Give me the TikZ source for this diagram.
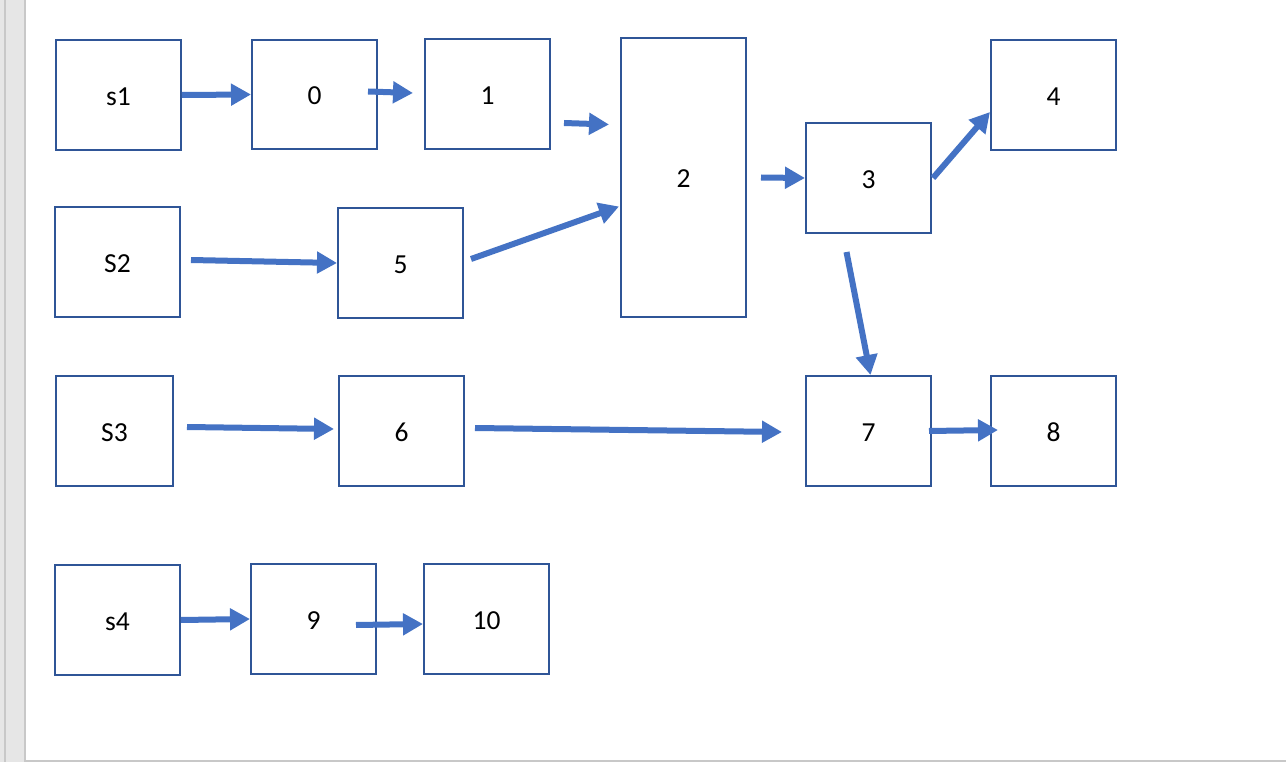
\documentclass[tikz,border=0pt]{standalone}
\usepackage{fontspec}
\setmainfont{Carlito}
\usetikzlibrary{arrows.meta,calc}
\definecolor{boxc}{HTML}{2F5597}
\definecolor{arrc}{HTML}{4472C4}
\definecolor{stripc}{HTML}{E6E6E6}
\definecolor{edgec}{HTML}{C8C8C8}
\tikzset{
  blk/.style={draw=boxc,line width=2pt,fill=white,inner sep=0pt,
    font=\fontsize{27.5}{32}\selectfont,text height=21pt,text depth=0pt},
  arr/.style={draw=arrc,line width=6pt,-{Triangle[length=20pt,width=21pt]}}
}
\begin{document}
\begin{tikzpicture}[x=1pt,y=-1pt]
\useasboundingbox (0,0) rectangle (1286,762);
\fill[white] (0,0) rectangle (1286,762);
\fill[stripc] (0,0) rectangle (25,762);
\draw[edgec,line width=1.5pt] (5,0) -- (5,762);
\draw[edgec,line width=1.5pt] (25,0) -- (25,762);
\draw[edgec,line width=1.5pt] (25,761) -- (1286,761);
% boxes
\node[blk,minimum width=125pt,minimum height=110pt] (s1) at (118.5,95) {s1};
\node[blk,minimum width=125pt,minimum height=109pt] (n0) at (314.5,94.5) {0};
\node[blk,minimum width=125pt,minimum height=110pt] (n1) at (487.5,94) {1};
\node[blk,minimum width=125pt,minimum height=279pt] (n2) at (683.5,177.5) {2};
\node[blk,minimum width=125pt,minimum height=110pt] (n4) at (1053.5,95) {4};
\node[blk,minimum width=125pt,minimum height=110pt] (n3) at (868.5,178) {3};
\node[blk,minimum width=125pt,minimum height=110pt] (s2) at (117.5,262) {S2};
\node[blk,minimum width=125pt,minimum height=110pt] (n5) at (400.5,263) {5};
\node[blk,minimum width=117pt,minimum height=110pt] (s3) at (114.5,431) {S3};
\node[blk,minimum width=125pt,minimum height=110pt] (n6) at (401.5,431) {6};
\node[blk,minimum width=125pt,minimum height=110pt] (n7) at (868.5,431) {7};
\node[blk,minimum width=125pt,minimum height=110pt] (n8) at (1053.5,431) {8};
\node[blk,minimum width=125pt,minimum height=110pt] (s4) at (117.5,620) {s4};
\node[blk,minimum width=125pt,minimum height=110pt] (n9) at (313.5,619) {9};
\node[blk,minimum width=125pt,minimum height=110pt] (n10) at (486.5,619) {10};
% arrows
\draw[arr] (s1.east) -- (n0.west);
\draw[arr] ([shift={(-10,-3)}]n0.east) -- ([shift={(-11,-1)}]n1.west);
\draw[arr] ([shift={(13,29)}]n1.east) -- ([shift={(-11,-53)}]n2.west);
\draw[arr] ([shift={(10,-2)}]s2.east) -- (n5.west);
\draw[arr] ([shift={(7,-4)}]n5.east) -- ([shift={(-1,29)}]n2.west);
\draw[arr] ([shift={(14,0)}]n2.east) -- (n3.west);
\draw[arr] ([shift={(1,0)}]n3.east) -- ([shift={(0,17)}]n4.west);
\draw[arr] ([shift={(-22,18)}]n3.south) -- ([shift={(2,0)}]n7.north);
\draw[arr] ([shift={(13,-4)}]s3.east) -- ([shift={(-4,-2)}]n6.west);
\draw[arr] ([shift={(10,-3)}]n6.east) -- ([shift={(-23,1)}]n7.west);
\draw[arr] ([shift={(-3,0)}]n7.east) -- ([shift={(8,-1)}]n8.west);
\draw[arr] (s4.east) -- (n9.west);
\draw[arr] ([shift={(-21,6)}]n9.east) -- ([shift={(0,5)}]n10.west);
\end{tikzpicture}
\end{document}
